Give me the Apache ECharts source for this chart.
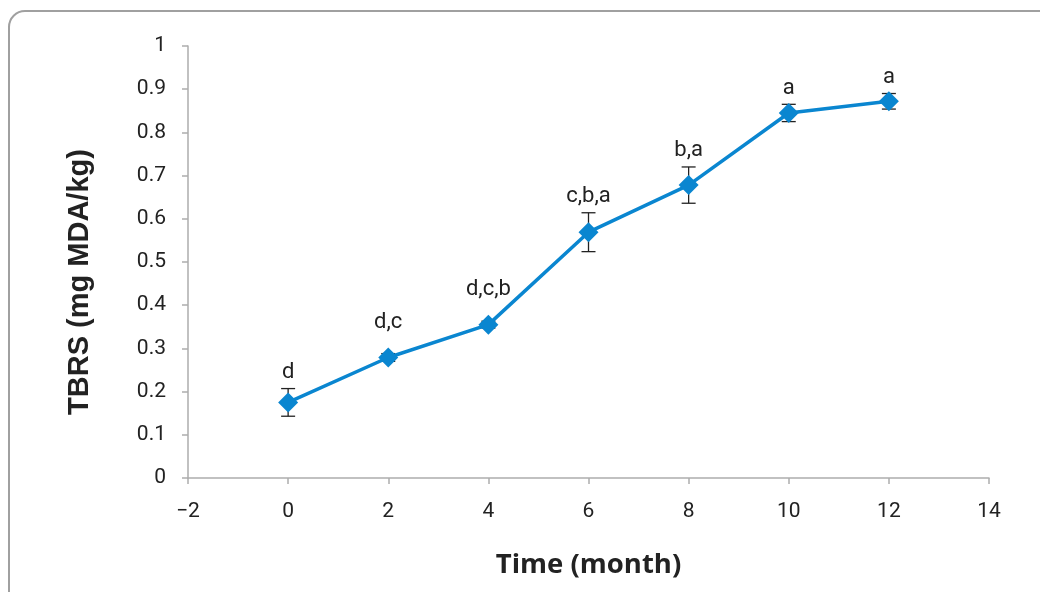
<!DOCTYPE html>
<html>
<head>
<meta charset="utf-8">
<script src="https://cdn.jsdelivr.net/npm/echarts@6/dist/echarts.min.js"></script>
<style>html,body{margin:0;padding:0;background:#fff}#c{width:1040px;height:592px}</style>
</head>
<body>
<div id="c"></div>
<script>
var months = [0, 2, 4, 6, 8, 10, 12];
var tbrs = [0.175, 0.279, 0.355, 0.569, 0.678, 0.845, 0.872];
var errs = [0.032, 0.009, 0.008, 0.045, 0.042, 0.020, 0.018];
var letters = ['d', 'd,c', 'd,c,b', 'c,b,a', 'b,a', 'a', 'a'];

var lineData = months.map(function (m, i) { return [m, tbrs[i]]; });
var errData = months.map(function (m, i) { return [m, tbrs[i] - errs[i], tbrs[i] + errs[i], letters[i], tbrs[i]]; });

var chart = echarts.init(document.getElementById('c'));
var axisCol = '#adadad';
var lblFont = 'Roboto, "Noto Sans", sans-serif';
chart.setOption({
  animation: false,
  backgroundColor: '#fff',
  graphic: [{
    type: 'rect', left: 8, top: 10, z: -1,
    shape: { width: 1200, height: 1000, r: 16 },
    style: { fill: '#fff', stroke: '#a0a0a0', lineWidth: 2 }
  }],
  grid: { left: 188, right: 51, top: 46, bottom: 114 },
  xAxis: {
    type: 'value', min: -2, max: 14, interval: 2,
    name: 'Time (month)', nameLocation: 'middle', nameGap: 73,
    nameTextStyle: { fontFamily: '"Open Sans", sans-serif', fontWeight: 'bold', fontSize: 27.5, color: '#222' },
    axisLine: { onZero: false, lineStyle: { color: axisCol, width: 1.5 } },
    axisTick: { show: true, length: 6, lineStyle: { color: axisCol, width: 1.5 } },
    axisLabel: { fontFamily: lblFont, fontSize: 21, color: '#222', margin: 23,
      formatter: function (v) { return v < 0 ? '\u2212' + Math.abs(v) : String(v); } },
    splitLine: { show: false }
  },
  yAxis: {
    type: 'value', min: 0, max: 1, interval: 0.1,
    name: 'TBRS (mg MDA/kg)', nameLocation: 'middle', nameGap: 94, nameRotate: 90,
    nameTextStyle: { fontFamily: '"Liberation Sans", Arial, sans-serif', fontWeight: 'bold', fontSize: 29, color: '#222',
      padding: [0, 40, 0, 0] },
    axisLine: { show: true, onZero: false, lineStyle: { color: axisCol, width: 1.5 } },
    axisTick: { show: true, length: 6, lineStyle: { color: axisCol, width: 1.5 } },
    axisLabel: { fontFamily: lblFont, fontSize: 21, color: '#222', margin: 22,
      formatter: function (v) { return String(+v.toFixed(1)); } },
    splitLine: { show: false }
  },
  series: [
    {
      type: 'custom',
      data: errData,
      z: 1,
      renderItem: function (params, api) {
        var x = api.value(0);
        var lo = api.coord([x, api.value(1)]);
        var hi = api.coord([x, api.value(2)]);
        var pt = api.coord([x, api.value(4)]);
        var hw = 7;
        var st = { stroke: '#222', lineWidth: 1.3 };
        // label sits above the error cap, or clear of the marker when the cap is hidden inside it
        var capVisible = (pt[1] - hi[1]) > 6;
        var ty = capVisible ? hi[1] - 5 : pt[1] - 24;
        return {
          type: 'group',
          children: [
            { type: 'line', shape: { x1: lo[0], y1: lo[1], x2: hi[0], y2: hi[1] }, style: st },
            { type: 'line', shape: { x1: lo[0] - hw, y1: lo[1], x2: lo[0] + hw, y2: lo[1] }, style: st },
            { type: 'line', shape: { x1: hi[0] - hw, y1: hi[1], x2: hi[0] + hw, y2: hi[1] }, style: st },
            { type: 'text', style: { x: hi[0], y: ty, text: api.value(3),
              textAlign: 'center', textVerticalAlign: 'bottom',
              font: '22px ' + lblFont, fill: '#222' } }
          ]
        };
      }
    },
    {
      type: 'line',
      data: lineData,
      z: 3,
      symbol: 'diamond',
      symbolSize: 20,
      lineStyle: { color: '#0a86d0', width: 3.5 },
      itemStyle: { color: '#0a86d0' }
    }
  ]
});
</script>
</body>
</html>
